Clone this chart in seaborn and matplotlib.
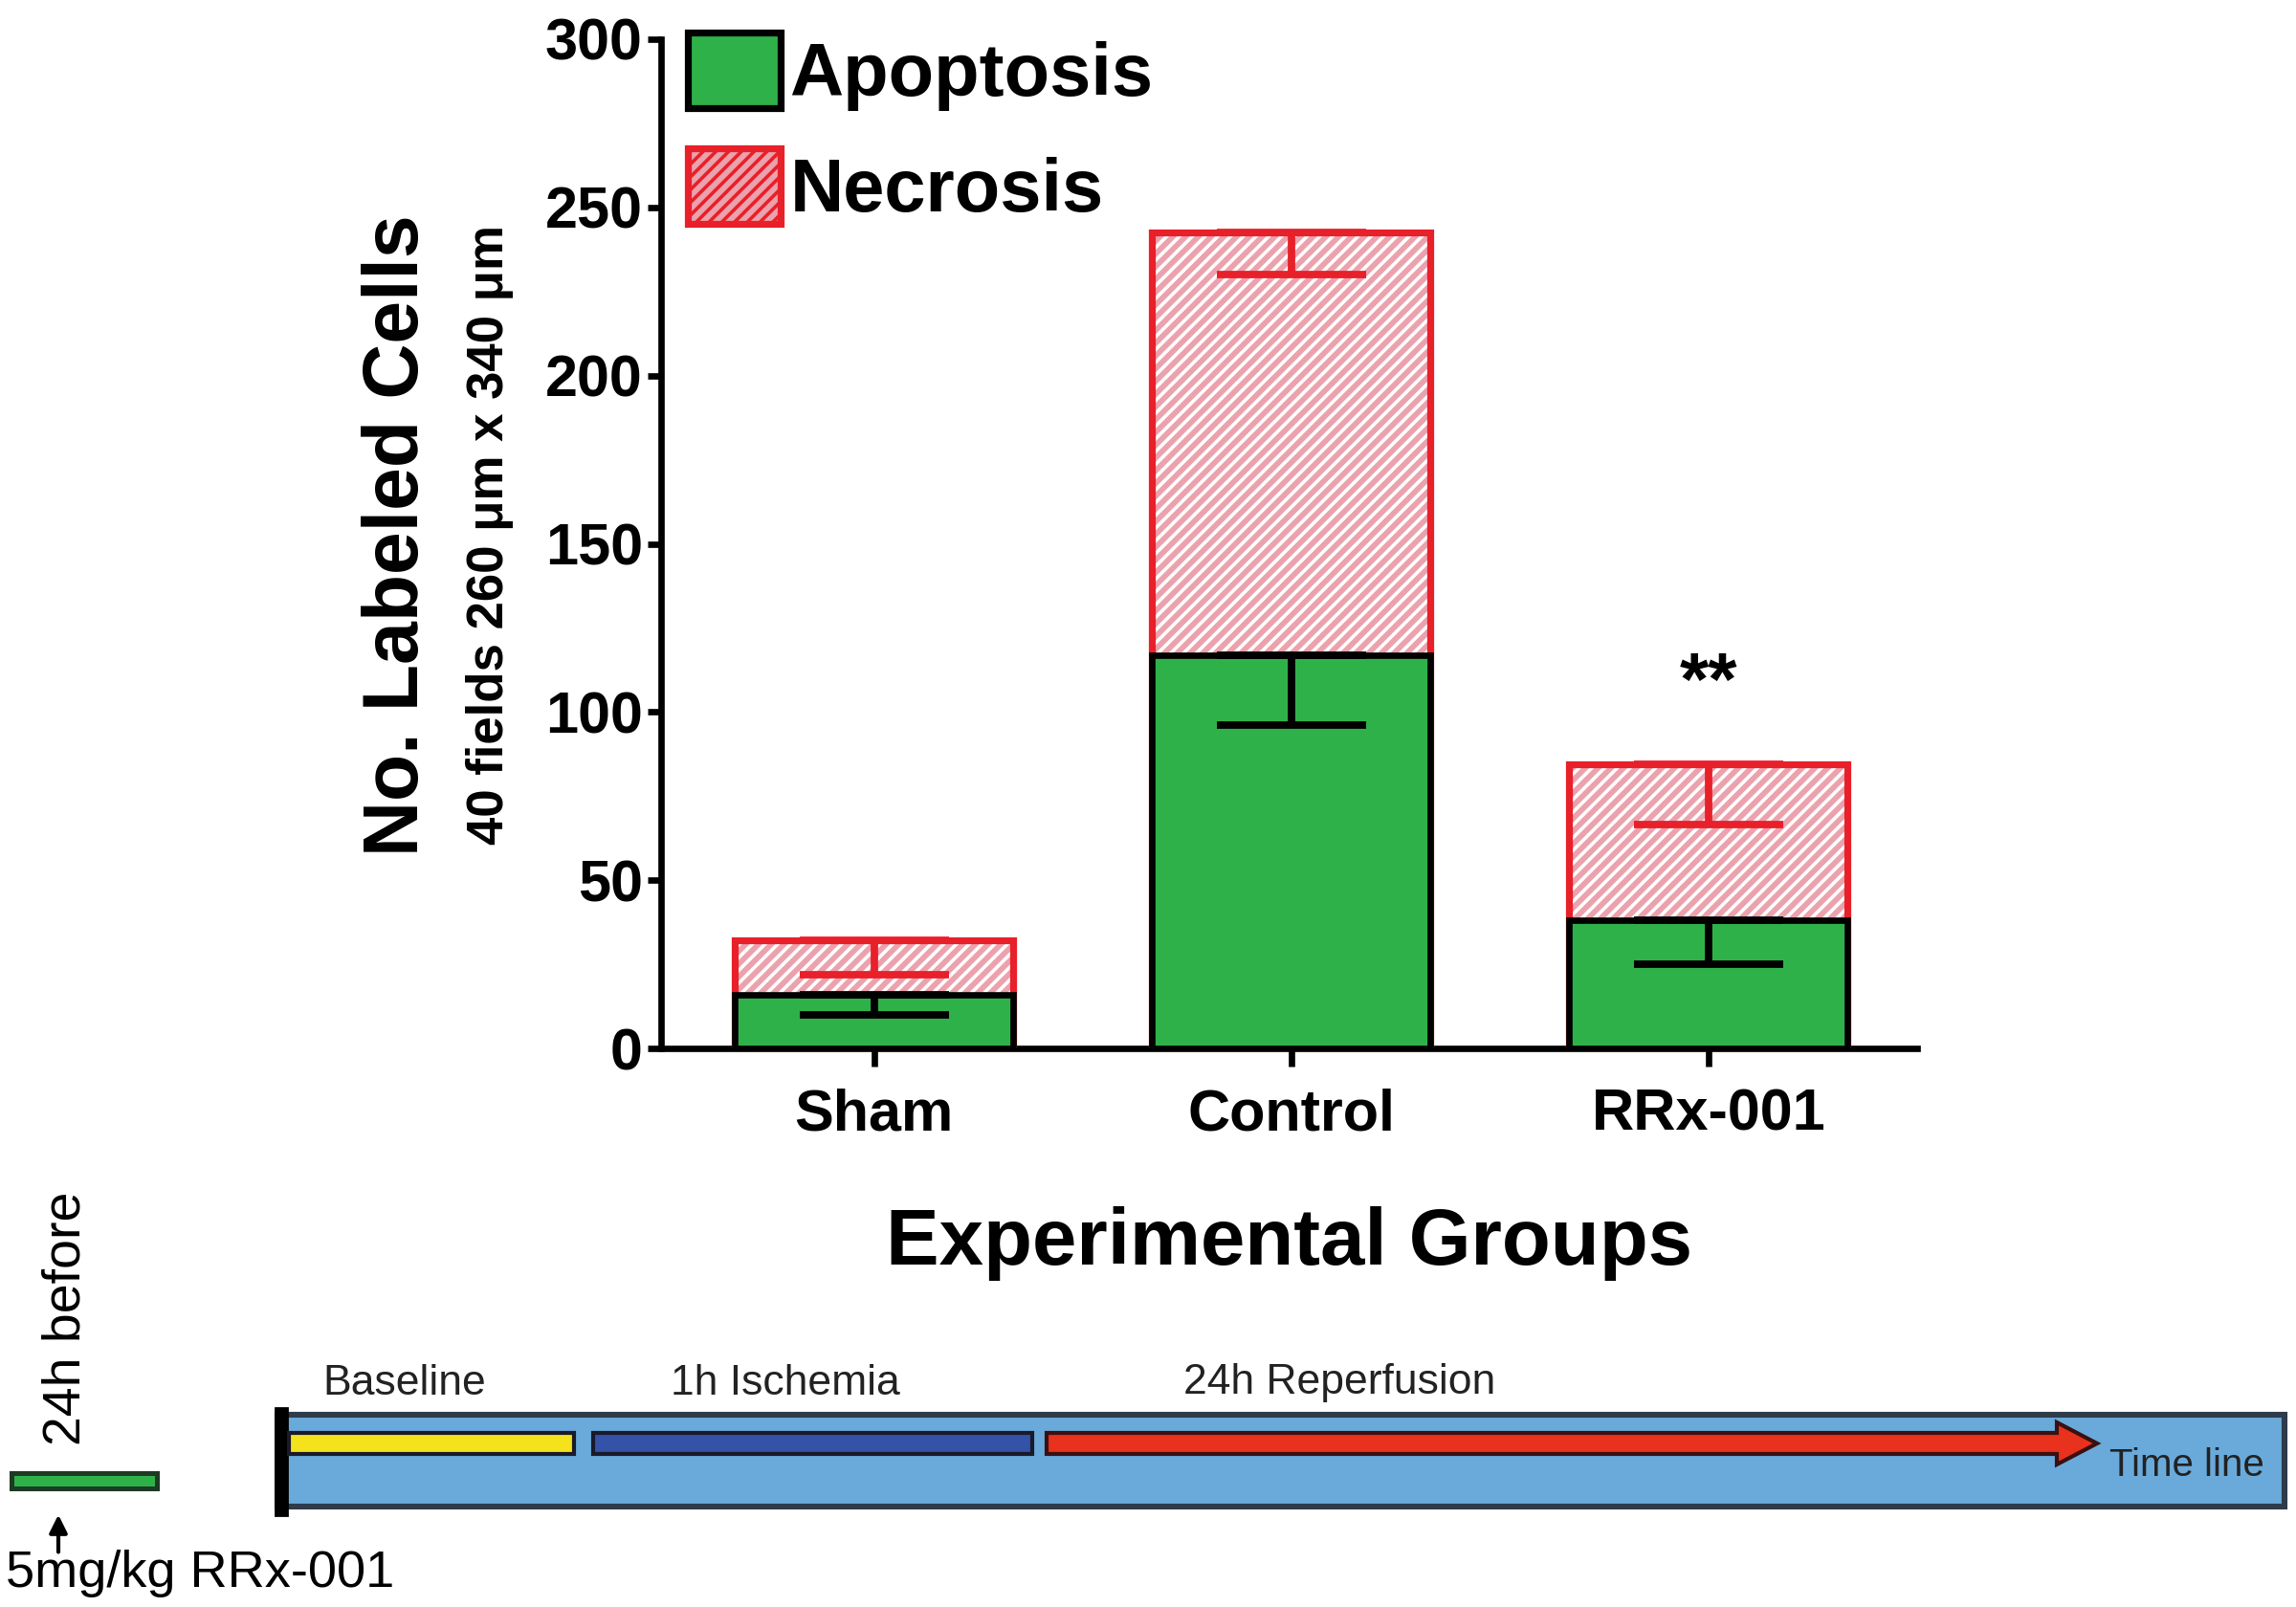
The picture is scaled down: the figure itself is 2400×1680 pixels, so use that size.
import matplotlib
matplotlib.use("Agg")
import matplotlib.pyplot as plt
import matplotlib.patches as mpatches
import seaborn as sns
import pandas as pd
import numpy as np

# ---- data ----
groups = ["Sham", "Control", "RRx-001"]
apoptosis = [16, 117, 38]
apoptosis_sem = [6, 21, 13]
necrosis = [16, 125.5, 46.5]
necrosis_sem = [10, 12.5, 18]
significance = ["", "", "**"]

sns.set_theme(style="white")
plt.rcParams['font.family'] = ['Liberation Sans Narrow', 'Liberation Sans', 'DejaVu Sans']
plt.rcParams['hatch.linewidth'] = 1.3
for k in ["text.color", "axes.labelcolor", "xtick.color", "ytick.color"]:
    plt.rcParams[k] = "black"

green = "#2fb14a"
pink = "#eba2ad"
red = "#e8202a"

totals = [a + n for a, n in zip(apoptosis, necrosis)]
df = pd.DataFrame({"group": groups, "apoptosis": apoptosis, "total": totals})

fig = plt.figure(figsize=(12, 8.4), dpi=200)

# background overlay for timeline diagram (pixel coordinates)
ov = fig.add_axes([0, 0, 1, 1], zorder=0)
ov.set_xlim(0, 2400)
ov.set_ylim(1680, 0)
ov.axis("off")

ax = fig.add_axes([0.288, 0.3476, 0.547, 0.628], zorder=2)

# necrosis (stacked total), hatched
sns.barplot(data=df, x="group", y="total", ax=ax, color=pink, width=0.667,
            edgecolor="white", linewidth=0, saturation=1, errorbar=None, zorder=2)
for p in ax.patches:
    p.set_hatch("/////")
    p.set_facecolor(pink)
    p.set_edgecolor("white")
n_nec = len(ax.patches)
# red outline on necrosis
sns.barplot(data=df, x="group", y="total", ax=ax, fill=False, width=0.667,
            edgecolor=red, linewidth=2.6, errorbar=None, zorder=3)
for p in ax.patches[n_nec:]:
    p.set_facecolor("none")
    p.set_edgecolor(red)
# apoptosis bars
sns.barplot(data=df, x="group", y="apoptosis", ax=ax, color=green, width=0.667,
            edgecolor="black", linewidth=2.4, saturation=1, errorbar=None, zorder=4)

xpos = np.arange(len(groups))
ax.errorbar(xpos, totals, yerr=[necrosis_sem, [0] * 3], fmt="none", ecolor=red,
            elinewidth=2.8, capsize=28, capthick=2.8, zorder=5)
ax.errorbar(xpos, apoptosis, yerr=[apoptosis_sem, [0] * 3], fmt="none", ecolor="black",
            elinewidth=2.8, capsize=28, capthick=2.8, zorder=5)

for x, s in zip(xpos, significance):
    if s:
        ax.text(x, 108, s, ha="center", va="center", fontsize=28, fontweight="bold")

ax.set_ylim(0, 300)
ax.set_xlim(-0.51, 2.5)
ax.set_yticks([0, 50, 100, 150, 200, 250, 300])
sns.despine(ax=ax)
for sp in ["left", "bottom"]:
    ax.spines[sp].set_linewidth(2.4)
    ax.spines[sp].set_color("black")
ax.tick_params(axis="y", direction="out", length=5, width=2.4, labelsize=22, pad=2, left=True)
ax.tick_params(axis="x", direction="out", length=7, width=2.4, labelsize=22, pad=8, bottom=True)
for lbl in ax.get_yticklabels() + ax.get_xticklabels():
    lbl.set_fontweight("bold")
ax.set_xlabel("Experimental Groups", fontsize=30, fontweight="bold", labelpad=24)
ax.set_ylabel("")
ax.patch.set_alpha(0)

# y labels
fig.text(0.1735, 0.667, "No. Labeled Cells", rotation=90, ha="center", va="center",
         fontsize=29, fontweight="bold")
fig.text(0.2135, 0.667, "40 fields 260 \u03bcm x 340 \u03bcm", rotation=90, ha="center",
         va="center", fontsize=19, fontweight="bold")

# legend
h1 = mpatches.Patch(facecolor=green, edgecolor="black", linewidth=2.6)
h2 = mpatches.Patch(facecolor=pink, edgecolor=red, linewidth=2.6, hatch="/////")
leg = ax.legend([h1, h2], ["Apoptosis", "Necrosis"], loc="upper left",
                bbox_to_anchor=(0.021, 1.007), frameon=False,
                prop={"size": 28, "weight": "bold"}, handlelength=1.25,
                handleheight=1.2, handletextpad=0.12, labelspacing=0.5,
                borderaxespad=0, borderpad=0)

# ---- timeline diagram ----
phase_labels = ["Baseline", "1h Ischemia", "24h Reperfusion"]
phase_colors = ["#f3e21c", "#3352a8", "#e8321e"]
phase_x = [(302, 600), (620, 1079), (1094, 2150)]
label_x = [337, 701, 1237]

ov.add_patch(mpatches.Rectangle((290, 1479), 2098, 96, facecolor="#6aaadb",
                                edgecolor="#2d3b4a", linewidth=2.2))
ov.add_patch(mpatches.Rectangle((288, 1472), 12, 112, facecolor="black", edgecolor="black"))
for (x0, x1), c in zip(phase_x[:2], phase_colors[:2]):
    ov.add_patch(mpatches.Rectangle((x0, 1498), x1 - x0, 22, facecolor=c,
                                    edgecolor="#1a1a2a", linewidth=1.5))
x0, x1 = phase_x[2]
ov.add_patch(mpatches.FancyArrow(x0, 1509, x1 - x0, 0, width=22, head_width=44,
                                 head_length=42, length_includes_head=False,
                                 facecolor=phase_colors[2], edgecolor="#3a1010", linewidth=1.5))
for lx, t in zip(label_x, phase_labels):
    ov.text(lx, 1446, t, ha="left", va="center", fontsize=16,
            family=["Liberation Sans", "DejaVu Sans"], color="#222222")
ov.text(2205, 1532, "Time line", ha="left", va="center", fontsize=14.5,
        family=["Liberation Sans Narrow", "Liberation Sans"], color="#222222")

ov.add_patch(mpatches.Rectangle((12, 1540), 152, 16, facecolor="#2fb14a",
                                edgecolor="#1e3a24", linewidth=1.8))
ov.text(69, 1378, "24h before", rotation=90, ha="center", va="center", fontsize=20,
        family=["Liberation Sans", "DejaVu Sans"])
ov.annotate("", xy=(61, 1578), xytext=(61, 1628),
            arrowprops=dict(arrowstyle="-|>", color="black", lw=1.5, mutation_scale=14))
ov.text(6, 1645, "5mg/kg RRx-001", ha="left", va="center", fontsize=19.5,
        family=["Liberation Sans", "DejaVu Sans"])

fig.savefig("out.png", dpi=200)
